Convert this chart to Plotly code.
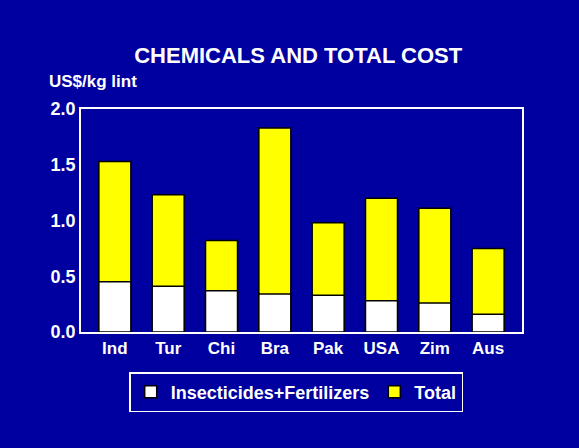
import plotly.graph_objects as go

countries = ["Ind", "Tur", "Chi", "Bra", "Pak", "USA", "Zim", "Aus"]
insect_fert = [0.45, 0.41, 0.37, 0.34, 0.33, 0.28, 0.26, 0.16]
total = [1.53, 1.23, 0.82, 1.83, 0.98, 1.20, 1.11, 0.75]

bg = "#0000A0"
font = "Liberation Sans, Arial, sans-serif"

fig = go.Figure()

# total drawn full height behind, chemicals overlaid in front
fig.add_trace(go.Bar(
    x=countries, y=total, name="Total",
    marker=dict(color="#FFFF00", line=dict(color="black", width=1.5)),
    width=0.6,
))
fig.add_trace(go.Bar(
    x=countries, y=insect_fert, name="Insecticides+Fertilizers",
    marker=dict(color="white", line=dict(color="black", width=1.5)),
    width=0.6,
))

fig.update_layout(
    width=579, height=448,
    paper_bgcolor=bg, plot_bgcolor=bg,
    barmode="overlay",
    margin=dict(l=81, r=57, t=109, b=116),
    font=dict(family=font, color="white", size=16),
    title=dict(text="<b>CHEMICALS AND TOTAL COST</b>", x=0.515, xanchor="center",
               y=1 - 55 / 448, yanchor="middle",
               font=dict(size=22, color="white", family=font)),
    xaxis=dict(range=[-0.635, 7.635], showgrid=False, zeroline=False,
               showline=True, linecolor="white", linewidth=1.5, mirror=True,
               ticks="", tickprefix="<b>", ticksuffix="</b>",
               tickfont=dict(size=17, color="white")),
    yaxis=dict(range=[0, 2.0], dtick=0.5, tickformat=".1f", showgrid=False,
               zeroline=False, showline=True, linecolor="white", linewidth=1.5,
               mirror=True, ticks="", tickprefix="<b>", ticksuffix="</b>",
               tickfont=dict(size=18, color="white")),
    legend=dict(orientation="h", traceorder="reversed",
                x=0.488, xanchor="center", y=-0.18, yanchor="top",
                bgcolor=bg, bordercolor="white", borderwidth=1.5,
                font=dict(size=18, color="white")),
    annotations=[dict(text="<b>US$/kg lint</b>", xref="paper", yref="paper",
                      x=-0.078, y=1.07, xanchor="left", yanchor="bottom",
                      showarrow=False, font=dict(size=17, color="white"))],
)

for tr in fig.data:
    tr.name = "<b>" + tr.name + "</b>"

fig.write_html("out.html", config={"displayModeBar": False},
               post_script="document.body.style.margin='0';")
